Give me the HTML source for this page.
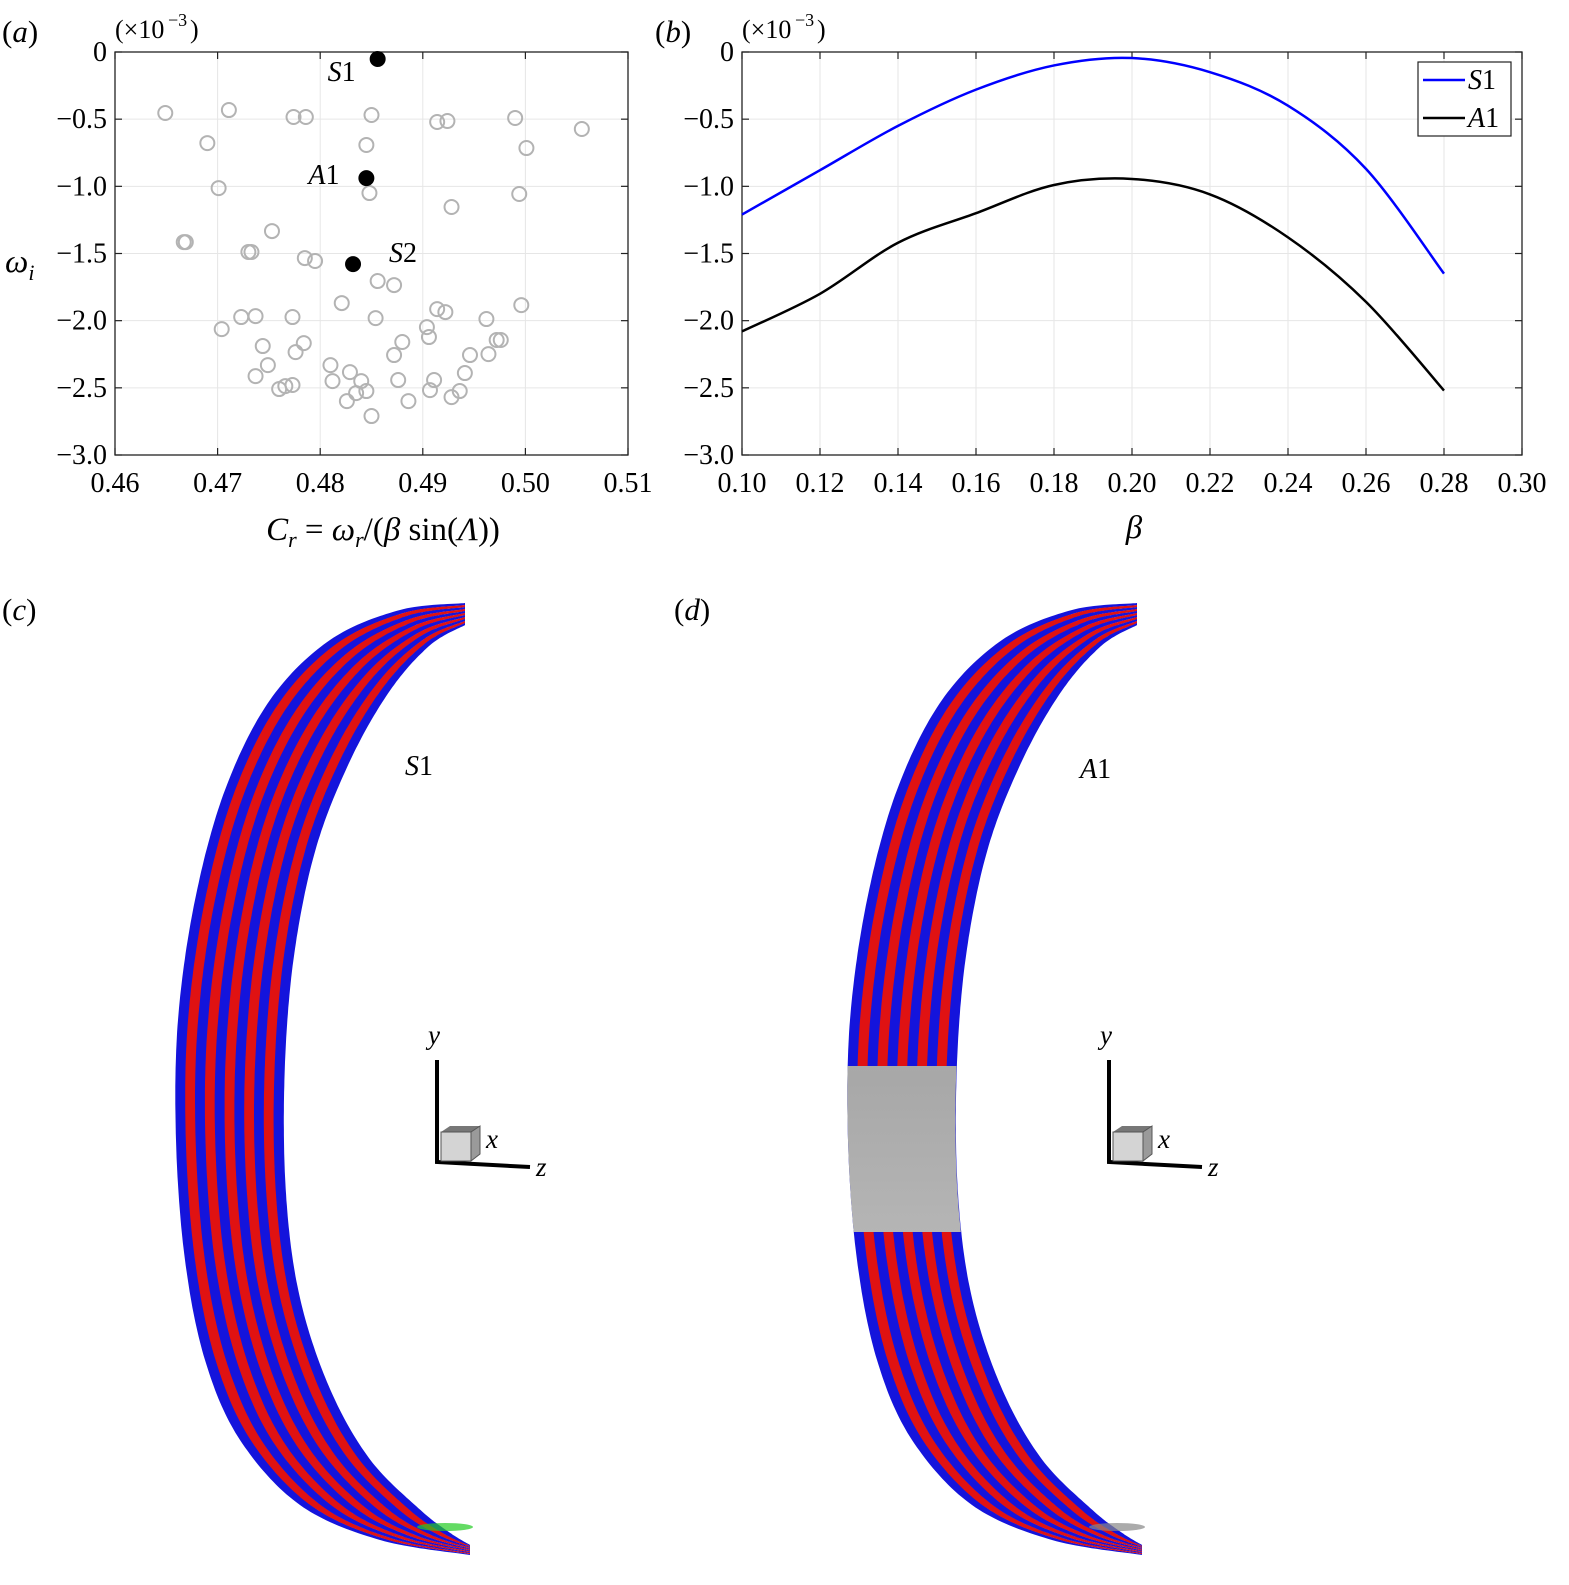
<!DOCTYPE html>
<html><head><meta charset="utf-8">
<style>
html,body{margin:0;padding:0;background:#fff;}
svg{display:block;font-family:"Liberation Serif",serif;}
</style></head>
<body>
<svg id="fig" width="1569" height="1585" viewBox="0 0 1569 1585" xmlns="http://www.w3.org/2000/svg"></svg>
<script>
// Panel (a) data
const crValues = [0.4649,0.4711,0.4690,0.4701,0.4774,0.4786,0.4850,0.4845,0.4848,0.4914,0.4924,0.4990,0.5055,0.5001,0.4994,0.4928,0.4667,0.4669,0.4730,0.4733,0.4753,0.4785,0.4795,0.4856,0.4872,0.4821,0.4854,0.4704,0.4723,0.4737,0.4773,0.4914,0.4922,0.4904,0.4906,0.4880,0.4872,0.4784,0.4776,0.4744,0.4749,0.4737,0.4766,0.4760,0.4773,0.4810,0.4812,0.4829,0.4840,0.4835,0.4845,0.4826,0.4850,0.4876,0.4886,0.4911,0.4907,0.4928,0.4936,0.4941,0.4946,0.4964,0.4962,0.4972,0.4976,0.4996];
const wiValues = [-0.454,-0.432,-0.678,-1.013,-0.484,-0.484,-0.469,-0.692,-1.050,-0.521,-0.514,-0.491,-0.573,-0.715,-1.057,-1.154,-1.415,-1.415,-1.489,-1.489,-1.333,-1.534,-1.556,-1.705,-1.735,-1.869,-1.981,-2.063,-1.973,-1.966,-1.973,-1.914,-1.936,-2.048,-2.122,-2.159,-2.256,-2.167,-2.234,-2.189,-2.331,-2.413,-2.487,-2.509,-2.479,-2.331,-2.450,-2.383,-2.450,-2.539,-2.524,-2.599,-2.710,-2.442,-2.599,-2.442,-2.517,-2.569,-2.524,-2.390,-2.256,-2.249,-1.988,-2.144,-2.144,-1.884];
const modeNames = ["S1","A1","S2"];
const modeCr = [0.4856,0.4845,0.4832];
const modeWi = [-0.052,-0.939,-1.579];
const aXTicks = [0.46,0.47,0.48,0.49,0.50,0.51];
const yTicks = [0,-0.5,-1.0,-1.5,-2.0,-2.5,-3.0];
// Panel (b) data
const betaValues = [0.10,0.12,0.14,0.16,0.18,0.20,0.22,0.24,0.26,0.28];
const s1Values = [-1.21,-0.88,-0.55,-0.28,-0.10,-0.045,-0.15,-0.40,-0.87,-1.65];
const a1Values = [-2.08,-1.80,-1.42,-1.20,-0.99,-0.945,-1.06,-1.38,-1.86,-2.52];
const bXTicks = [0.10,0.12,0.14,0.16,0.18,0.20,0.22,0.24,0.26,0.28,0.30];

const NS="http://www.w3.org/2000/svg";
const svg=document.getElementById('fig');
function el(tag,attrs,parent,text){const e=document.createElementNS(NS,tag);for(const k in attrs)e.setAttribute(k,attrs[k]);if(text!==undefined)e.textContent=text;(parent||svg).appendChild(e);return e;}
function fmtY(v){return v===0?"0":("\u2212"+Math.abs(v).toFixed(1));}
function panelLabel(g,x,y,letter,name){
  const t=el('text',{x:x,y:y,'font-size':31,},g);
  el('tspan',{},t,'(');el('tspan',{'font-style':'italic'},t,letter);el('tspan',{},t,')');
}

const yTop=52,yBot=455;
function yS(v){return yTop+(0-v)/3*(yBot-yTop);}

function panelAxes(g,x0,x1,xmin,xmax,xticks,fmtX){
  const xS=v=>x0+(v-xmin)/(xmax-xmin)*(x1-x0);
  xticks.forEach(t=>{const l=el('line',{x1:xS(t),x2:xS(t),y1:yTop,y2:yBot,stroke:'#e6e6e6','stroke-width':1},g);});
  yTicks.forEach(t=>{const l=el('line',{x1:x0,x2:x1,y1:yS(t),y2:yS(t),stroke:'#e6e6e6','stroke-width':1},g);});
  const r=el('rect',{x:x0,y:yTop,width:x1-x0,height:yBot-yTop,fill:'none',stroke:'#222','stroke-width':1.3},g);
  
  xticks.forEach(t=>{
    el('line',{x1:xS(t),x2:xS(t),y1:yBot,y2:yBot-7,stroke:'#222','stroke-width':1.2},g);
    el('line',{x1:xS(t),x2:xS(t),y1:yTop,y2:yTop+7,stroke:'#222','stroke-width':1.2},g);
    const tx=el('text',{x:xS(t),y:yBot+37,'font-size':28,'text-anchor':'middle'},g,fmtX(t));
    
  });
  yTicks.forEach(t=>{
    el('line',{x1:x0,x2:x0+7,y1:yS(t),y2:yS(t),stroke:'#222','stroke-width':1.2},g);
    el('line',{x1:x1,x2:x1-7,y1:yS(t),y2:yS(t),stroke:'#222','stroke-width':1.2},g);
    const tx=el('text',{x:x0-8,y:yS(t)+9,'font-size':28,'text-anchor':'end'},g,fmtY(t));
    
  });
  return xS;
}

// Panel a
const ga=el('g',{});
panelLabel(ga,2,42,'a','panel-a-label');
const xa=panelAxes(ga,115,628,0.46,0.51,aXTicks,t=>t.toFixed(2));
el('text',{x:115,y:38,'font-size':26,},ga,'(×10');
el('text',{x:168,y:26,'font-size':18,},ga,'−3');
el('text',{x:190,y:38,'font-size':26},ga,')');
crValues.forEach((c,i)=>{
  const p=el('circle',{cx:xa(c),cy:yS(wiValues[i]),r:7,fill:'none',stroke:'#b3b3b3','stroke-width':2},ga);
  
});
const labOff=[[-50,22],[-58,6],[36,-2]];
modeCr.forEach((c,i)=>{
  const p=el('circle',{cx:xa(c),cy:yS(modeWi[i]),r:7.5,fill:'#000',stroke:'#000'},ga);
  
  const t=el('text',{x:xa(c)+labOff[i][0],y:yS(modeWi[i])+labOff[i][1],'font-size':28,'text-anchor':'start'},ga);
  
  el('tspan',{'font-style':'italic'},t,modeNames[i][0]);el('tspan',{},t,modeNames[i].slice(1));
});
const yl=el('text',{x:5,y:272,'font-size':33,'font-style':'italic',},ga,'ω');
el('tspan',{'font-size':22,dy:8},yl,'i');
const xl=el('text',{x:383,y:540,'font-size':33,'text-anchor':'middle',},ga);
el('tspan',{'font-style':'italic'},xl,'C');el('tspan',{'font-style':'italic','font-size':22,dy:7},xl,'r');
el('tspan',{dy:-7},xl,' = ');el('tspan',{'font-style':'italic'},xl,'ω');el('tspan',{'font-style':'italic','font-size':22,dy:7},xl,'r');
el('tspan',{dy:-7},xl,'/(');el('tspan',{'font-style':'italic'},xl,'β');el('tspan',{},xl,' sin(');el('tspan',{'font-style':'italic'},xl,'Λ');el('tspan',{},xl,'))');

// Panel b
const gb=el('g',{});
panelLabel(gb,655,42,'b','panel-b-label');
const xb=panelAxes(gb,742,1522,0.10,0.30,bXTicks,t=>t.toFixed(2));
el('text',{x:742,y:38,'font-size':26},gb,'(×10');
el('text',{x:795,y:26,'font-size':18},gb,'−3');
el('text',{x:817,y:38,'font-size':26},gb,')');
function smooth(pts){
  let d='M'+pts[0][0]+','+pts[0][1];
  for(let i=0;i<pts.length-1;i++){
    const p0=pts[Math.max(0,i-1)],p1=pts[i],p2=pts[i+1],p3=pts[Math.min(pts.length-1,i+2)];
    d+=' C'+(p1[0]+(p2[0]-p0[0])/6)+','+(p1[1]+(p2[1]-p0[1])/6)+' '+(p2[0]-(p3[0]-p1[0])/6)+','+(p2[1]-(p3[1]-p1[1])/6)+' '+p2[0]+','+p2[1];
  }
  return d;
}
function pathFor(vals){return smooth(betaValues.map((b,i)=>[xb(b),yS(vals[i])]));}
el('path',{d:pathFor(s1Values),fill:'none',stroke:'#0000ff','stroke-width':2.5,},gb);
el('path',{d:pathFor(a1Values),fill:'none',stroke:'#000','stroke-width':2.5,},gb);
const lg=el('g',{},gb);
el('rect',{x:1418,y:62,width:93,height:74,fill:'#fff',stroke:'#222','stroke-width':1.2},lg);
el('line',{x1:1423,x2:1465,y1:80,y2:80,stroke:'#0000ff','stroke-width':2.5,},lg);
el('line',{x1:1423,x2:1465,y1:118,y2:118,stroke:'#000','stroke-width':2.5,},lg);
let t1=el('text',{x:1468,y:89,'font-size':28},lg);el('tspan',{'font-style':'italic'},t1,'S');el('tspan',{},t1,'1');
let t2=el('text',{x:1468,y:127,'font-size':28},lg);el('tspan',{'font-style':'italic'},t2,'A');el('tspan',{},t2,'1');
el('text',{x:1134,y:538,'font-size':33,'font-style':'italic','text-anchor':'middle',},gb,'β');

// Panels c/d: isosurface approximations (shape outline)
const defs=el('defs',{});
const gr=el('linearGradient',{id:'grayg',x1:0,y1:0,x2:0,y2:1},defs);
el('stop',{offset:'0','stop-color':'#cdcdcd'},gr);el('stop',{offset:'0.5','stop-color':'#a8a8a8'},gr);el('stop',{offset:'1','stop-color':'#d0d0d0'},gr);
const outerEdge=[[465,603],[400,610],[330,640],[270,700],[225,790],[195,900],[178,1020],[176,1140],[185,1260],[205,1360],[240,1440],[300,1505],[380,1540],[470,1555]];
const innerEdge=[[465,625],[430,645],[390,690],[350,760],[315,850],[293,960],[284,1080],[286,1200],[300,1300],[330,1390],[370,1460],[420,1510],[450,1533],[470,1545]];
function sample(pts,n){
  const out=[];const m=pts.length-1;
  for(let s=0;s<=n;s++){
    const u=s/n*m;const i=Math.min(m-1,Math.floor(u));const t=u-i;
    const p0=pts[Math.max(0,i-1)],p1=pts[i],p2=pts[i+1],p3=pts[Math.min(m,i+2)];
    const f=(a,b,c,d)=>0.5*((2*b)+(-a+c)*t+(2*a-5*b+4*c-d)*t*t+(-a+3*b-3*c+d)*t*t*t);
    out.push([f(p0[0],p1[0],p2[0],p3[0]),f(p0[1],p1[1],p2[1],p3[1])]);
  }
  return out;
}
const OS=sample(outerEdge,260), IS=sample(innerEdge,260);
function lerpCurve(f,dx){return OS.map((p,i)=>[p[0]+(IS[i][0]-p[0])*f+dx,p[1]+(IS[i][1]-p[1])*f]);}
function ribbon(fa,fb,dx){
  const a=lerpCurve(fa,dx),b=lerpCurve(fb,dx).reverse();
  return 'M'+a.concat(b).map(p=>p[0].toFixed(1)+','+p[1].toFixed(1)).join(' L')+'Z';
}
function isoPanel(dx,letter,name,gray){
  const g=el('g',{});
  panelLabel(g,2+dx,620,letter,name+'-label');
  const N=11;
  for(let k=0;k<N;k++){
    const col=k%2===0?'#1414dc':'#e01212';
    const s=el('path',{d:ribbon(k/N,(k+1)/N+0.004,dx),fill:col,stroke:'none'},g);
    
    
  }
  if(gray){
    const cp=el('clipPath',{id:'gclip'+dx},defs);el('rect',{x:0,y:1066,width:1569,height:166},cp);
    const gg=el('path',{d:ribbon(0,1,dx),fill:'url(#grayg)','clip-path':'url(#gclip'+dx+')'},g);
    
  }
  el('ellipse',{cx:445+dx,cy:1527,rx:28,ry:4,fill:gray?'#888':'#2c2','opacity':0.7},g);
  const ax=el('g',{},g);
  el('polyline',{points:(437+dx)+',1060 '+(437+dx)+',1162 '+(530+dx)+',1167',fill:'none',stroke:'#000','stroke-width':4},ax);
  el('polygon',{points:(441+dx)+',1132 '+(450+dx)+',1126 '+(480+dx)+',1126 '+(471+dx)+',1132',fill:'#777'},ax);
  el('rect',{x:441+dx,y:1132,width:30,height:29,fill:'#d4d4d4',stroke:'#555','stroke-width':1},ax);
  el('polygon',{points:(471+dx)+',1132 '+(480+dx)+',1126 '+(480+dx)+',1154 '+(471+dx)+',1161',fill:'#9a9a9a',stroke:'#555','stroke-width':1},ax);
  el('text',{x:428+dx,y:1044,'font-size':27,'font-style':'italic'},ax,'y');
  el('text',{x:486+dx,y:1148,'font-size':27,'font-style':'italic'},ax,'x');
  el('text',{x:536+dx,y:1176,'font-size':27,'font-style':'italic'},ax,'z');
  return g;
}
const gc=isoPanel(0,'c','panel-c',false);
let lc=el('text',{x:405,y:775,'font-size':28,},gc);el('tspan',{'font-style':'italic'},lc,'S');el('tspan',{},lc,'1');
const gd=isoPanel(672,'d','panel-d',true);
let ld=el('text',{x:1080,y:778,'font-size':28,},gd);el('tspan',{'font-style':'italic'},ld,'A');el('tspan',{},ld,'1');
</script>
</body></html>
